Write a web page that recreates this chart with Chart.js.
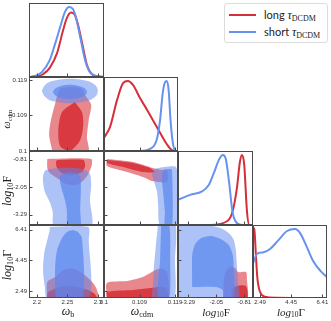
<!DOCTYPE html>
<html>
<head>
<meta charset="utf-8">
<script src="https://cdn.jsdelivr.net/npm/chart.js@4.4.1/dist/chart.umd.min.js"></script>
<style>
  html, body { margin: 0; padding: 0; background: #fff; }
  #wrap { position: relative; width: 331px; height: 321px; overflow: hidden; }
  #wrap canvas { position: absolute; left: 0; top: 0; }
  .lab { position: absolute; font-family: "Liberation Serif", "DejaVu Serif", serif; color: #222; white-space: nowrap; line-height: 1; }
  .lab i { font-style: italic; }
  .lab sub { font-size: 68%; vertical-align: -0.25em; line-height: 0; }
  .hor { transform: translate(-50%, -50%); }
  .rot { transform: translate(-50%, -50%) rotate(-90deg); }
  #legend { position: absolute; left: 224px; top: 3px; width: 102px; height: 38px; border: 1px solid #dcdcdc; border-radius: 3px; background: #fff; }
  #legend .row { position: absolute; left: 0; height: 14px; font-family: "Lato", "DejaVu Sans", sans-serif; font-size: 11px; color: #222; white-space: nowrap; }
  #legend .sw { position: absolute; left: 4px; top: 6px; width: 27px; height: 2px; }
  #legend .tx { position: absolute; left: 39px; top: 0; }
  #legend .tx i { font-family: "Liberation Serif", serif; font-style: italic; font-size: 12px; }
  #legend .tx sub { font-family: "Liberation Serif", serif; font-size: 8px; vertical-align: -0.2em; line-height: 0; }
</style>
</head>
<body>
<div id="wrap"></div>
<script>
// axis ranges and ticks
const wbRange = [2.187, 2.31];
const wcdmRange = [0.1, 0.1198];
const logFRange = [-3.75, -0.42];
const logGRange = [2.05, 6.7];
const pdfRange = [0, 1.057];

const wbTicks = [2.2, 2.25, 2.3];
const wbTickText = ['2.2', '2.25', '2.3'];
const wcdmTicks = [0.1, 0.1095, 0.119];
const wcdmTickText = ['0.1', '0.109', '0.119'];
const logFTicks = [-3.29, -2.05, -0.81];
const logFTickText = ['-3.29', '-2.05', '-0.81'];
const logGTicks = [2.49, 4.45, 6.41];
const logGTickText = ['2.49', '4.45', '6.41'];

// 1D marginals (long, short)
const wbLong1D = [[2.187,0],[2.205,0.02],[2.210,0.04],[2.221,0.13],[2.233,0.34],[2.243,0.67],[2.249,0.84],[2.256,0.92],[2.262,0.89],[2.267,0.76],[2.274,0.49],[2.282,0.17],[2.290,0.04],[2.298,0.01],[2.31,0]];
const wbShort1D = [[2.187,0],[2.198,0.02],[2.208,0.07],[2.221,0.24],[2.230,0.48],[2.238,0.71],[2.246,0.93],[2.253,1.0],[2.259,0.97],[2.264,0.85],[2.271,0.57],[2.279,0.24],[2.287,0.07],[2.297,0.015],[2.31,0]];
const wcdmLong1D = [[0.1,0.19],[0.1016,0.34],[0.1035,0.73],[0.1051,0.97],[0.1064,1.0],[0.1078,0.94],[0.1096,0.76],[0.1115,0.59],[0.1131,0.44],[0.1150,0.26],[0.1169,0.09],[0.1182,0.01],[0.1198,0]];
const wcdmShort1D = [[0.1,0],[0.1096,0],[0.1123,0.03],[0.1141,0.16],[0.1150,0.44],[0.1157,0.82],[0.1163,0.98],[0.1168,1.0],[0.1173,0.87],[0.1178,0.44],[0.1185,0.09],[0.1194,0],[0.1198,0]];
const logFLong1D = [[-3.75,0],[-2.309,0],[-1.556,0.057],[-1.331,0.19],[-1.137,0.52],[-1.002,0.9],[-0.912,1.0],[-0.809,0.86],[-0.687,0.19],[-0.583,0],[-0.42,0]];
const logFShort1D = [[-3.75,0.36],[-3.21,0.43],[-2.68,0.48],[-2.385,0.57],[-2.16,0.74],[-1.935,0.93],[-1.755,1.0],[-1.633,0.95],[-1.484,0.62],[-1.331,0.19],[-1.106,0.02],[-0.82,0],[-0.42,0]];
const logGLong1D = [[2.05,1.02],[2.13,1.0],[2.24,0.59],[2.32,0.30],[2.49,0.09],[2.8,0.02],[3.5,0.005],[6.7,0]];
const logGShort1D = [[2.05,0.5],[2.30,0.64],[2.68,0.66],[3.12,0.71],[3.62,0.83],[4.19,0.97],[4.69,1.0],[5.01,0.94],[5.45,0.73],[5.82,0.54],[6.26,0.4],[6.70,0.3]];

// 2D contours (68% and 95%)
const wbWcdmLong95 = [[2.226,0.0995],[2.220,0.1043],[2.223,0.1083],[2.230,0.1128],[2.235,0.1158],[2.241,0.1169],[2.271,0.1169],[2.280,0.1147],[2.289,0.1123],[2.285,0.1083],[2.282,0.1037],[2.284,0.0995],[2.226,0.0995]];
const wbWcdmLong68 = [[2.262,0.1131],[2.274,0.1104],[2.276,0.1070],[2.271,0.1029],[2.254,0.1000],[2.238,0.1013],[2.235,0.1056],[2.241,0.1104],[2.262,0.1131]];
const wbWcdmShort95 = [[2.208,0.1161],[2.212,0.1174],[2.221,0.1185],[2.238,0.1191],[2.254,0.1193],[2.271,0.1191],[2.287,0.1185],[2.297,0.1174],[2.300,0.1161],[2.297,0.1147],[2.287,0.1136],[2.271,0.1130],[2.254,0.1128],[2.238,0.1130],[2.221,0.1136],[2.212,0.1147],[2.208,0.1161]];
const wbWcdmShort68 = [[2.226,0.1158],[2.230,0.1167],[2.239,0.1174],[2.254,0.1177],[2.269,0.1174],[2.279,0.1167],[2.282,0.1158],[2.279,0.1149],[2.269,0.1142],[2.254,0.1139],[2.239,0.1142],[2.230,0.1149],[2.226,0.1158]];

const wbLogFLong95 = [[2.217,-0.777],[2.289,-0.777],[2.290,-1.047],[2.285,-1.408],[2.277,-1.723],[2.264,-1.948],[2.248,-1.903],[2.233,-1.633],[2.221,-1.408],[2.217,-1.182],[2.217,-0.777]];
const wbLogFLong68 = [[2.233,-0.822],[2.276,-0.822],[2.279,-1.092],[2.274,-1.363],[2.258,-1.498],[2.241,-1.408],[2.233,-1.182],[2.231,-0.912],[2.233,-0.822]];
const wbLogFShort95 = [[2.210,-1.543],[2.213,-1.318],[2.221,-1.227],[2.238,-1.182],[2.262,-1.182],[2.279,-1.273],[2.287,-1.453],[2.289,-1.948],[2.287,-2.624],[2.289,-3.8],[2.228,-3.8],[2.226,-3.164],[2.221,-2.714],[2.213,-2.264],[2.210,-1.813],[2.210,-1.543]];
const wbLogFShort68 = [[2.238,-1.543],[2.246,-1.408],[2.262,-1.408],[2.271,-1.543],[2.272,-2.173],[2.271,-3.074],[2.271,-3.8],[2.251,-3.8],[2.249,-3.074],[2.246,-2.624],[2.241,-2.173],[2.238,-1.813],[2.238,-1.543]];

const wbLogGLong95 = [[2.217,2.0],[2.217,3.069],[2.230,3.388],[2.241,3.770],[2.251,3.929],[2.262,3.897],[2.274,3.642],[2.284,3.324],[2.292,3.005],[2.298,2.623],[2.300,2.0],[2.217,2.0]];
const wbLogGLong68 = [[2.217,2.0],[2.217,2.368],[2.225,2.560],[2.238,2.751],[2.251,2.814],[2.267,2.751],[2.284,2.560],[2.295,2.305],[2.298,2.0],[2.217,2.0]];
const wbLogGShort95 = [[2.221,6.572],[2.284,6.572],[2.285,5.744],[2.285,2.0],[2.217,2.0],[2.213,2.751],[2.210,3.834],[2.212,4.916],[2.217,5.744],[2.221,6.381],[2.221,6.572]];
const wbLogGShort68 = [[2.241,5.872],[2.249,6.254],[2.259,6.381],[2.267,6.254],[2.274,5.872],[2.274,2.0],[2.233,2.0],[2.230,2.878],[2.230,4.152],[2.233,5.107],[2.238,5.617],[2.241,5.872]];

const wcdmLogFLong95 = [[0.1008,-0.777],[0.1078,-0.912],[0.1131,-1.182],[0.1155,-1.273],[0.1169,-1.273],[0.1169,-1.813],[0.1145,-1.813],[0.1128,-1.768],[0.1104,-1.588],[0.1062,-1.363],[0.1008,-1.092],[0.1008,-0.777]];
const wcdmLogFLong68 = [[0.1008,-0.822],[0.1078,-0.957],[0.1123,-1.182],[0.1136,-1.363],[0.1104,-1.363],[0.1051,-1.137],[0.1008,-0.957],[0.1008,-0.822]];
const wcdmLogFShort95 = [[0.1128,-1.453],[0.1134,-1.273],[0.1145,-1.182],[0.1194,-1.182],[0.1194,-3.8],[0.1150,-3.8],[0.1145,-2.849],[0.1142,-2.264],[0.1131,-1.633],[0.1128,-1.453]];
const wcdmLogFShort68 = [[0.1155,-1.453],[0.1161,-1.273],[0.1177,-1.227],[0.1182,-1.273],[0.1182,-3.8],[0.1163,-3.8],[0.1163,-3.164],[0.1158,-2.264],[0.1155,-1.723],[0.1155,-1.453]];

const wcdmLogGLong95 = [[0.1008,2.0],[0.1008,3.005],[0.1062,3.133],[0.1104,3.388],[0.1128,3.706],[0.1145,3.897],[0.1158,3.897],[0.1169,3.706],[0.1169,2.0],[0.1008,2.0]];
const wcdmLogGLong68 = [[0.1008,2.0],[0.1008,2.432],[0.1078,2.560],[0.1123,2.687],[0.1150,2.751],[0.1166,2.687],[0.1171,2.432],[0.1171,2.0],[0.1008,2.0]];
const wcdmLogGShort95 = [[0.1145,6.8],[0.1139,5.426],[0.1134,4.152],[0.1131,2.878],[0.1131,2.0],[0.1187,2.0],[0.1190,4.47],[0.1190,6.8],[0.1145,6.8]];
const wcdmLogGShort68 = [[0.1153,6.8],[0.1150,4.47],[0.1145,2.0],[0.1174,2.0],[0.1177,4.47],[0.1174,6.8],[0.1153,6.8]];

const logFLogGLong95 = [[-1.723,2.0],[-1.723,3.196],[-1.633,3.706],[-1.453,4.025],[-1.228,3.961],[-1.092,3.706],[-0.732,3.706],[-0.687,3.196],[-0.687,2.0],[-1.723,2.0]];
const logFLogGLong68 = [[-1.363,2.0],[-1.363,2.560],[-1.137,2.814],[-0.732,2.814],[-0.687,2.0],[-1.363,2.0]];
const logFLogGShort95 = [[-3.8,6.636],[-2.218,6.636],[-1.768,6.445],[-1.453,6.126],[-1.273,5.744],[-1.182,5.107],[-1.137,4.152],[-1.092,3.196],[-1.092,2.0],[-3.8,2.0],[-3.8,6.636]];
const logFLogGShort68 = [[-3.119,2.751],[-3.119,4.789],[-2.984,5.489],[-2.714,5.872],[-2.309,5.999],[-1.858,5.808],[-1.498,5.426],[-1.318,4.789],[-1.273,3.834],[-1.273,2.0],[-1.723,2.0],[-1.768,2.560],[-2.083,2.751],[-3.119,2.751]];

// layout
const panelLeft = [29, 104, 178, 253];
const panelRight = [104, 178, 253, 327];
const panelTop = [3, 77, 151, 225];
const panelBottom = [77, 151, 225, 298];
const W = 331, H = 321;

const longLine = '#d62e3a', shortLine = '#6792ef';
const longOuter = 'rgba(214,39,48,0.55)', longInner = 'rgba(214,39,48,0.8)';
const shortOuter = 'rgba(92,136,240,0.5)', shortInner = 'rgba(92,136,240,0.72)';

const params = [
    { range: wbRange, ticks: wbTicks, text: wbTickText },
    { range: wcdmRange, ticks: wcdmTicks, text: wcdmTickText },
    { range: logFRange, ticks: logFTicks, text: logFTickText },
    { range: logGRange, ticks: logGTicks, text: logGTickText }
];
const pdfParam = { range: pdfRange, ticks: [], text: [] };

const marginals = [
    [wbLong1D, wbShort1D],
    [wcdmLong1D, wcdmShort1D],
    [logFLong1D, logFShort1D],
    [logGLong1D, logGShort1D]
];
const contours = {
    '1,0': [wbWcdmLong95, wbWcdmLong68, wbWcdmShort95, wbWcdmShort68],
    '2,0': [wbLogFLong95, wbLogFLong68, wbLogFShort95, wbLogFShort68],
    '3,0': [wbLogGLong95, wbLogGLong68, wbLogGShort95, wbLogGShort68],
    '2,1': [wcdmLogFLong95, wcdmLogFLong68, wcdmLogFShort95, wcdmLogFShort68],
    '3,1': [wcdmLogGLong95, wcdmLogGLong68, wcdmLogGShort95, wcdmLogGShort68],
    '3,2': [logFLogGLong95, logFLogGLong68, logFLogGShort95, logFLogGShort68]
};

function pts(arr) {
    return arr.map(p => ({ x: p[0], y: p[1] }));
}

// box around each panel plus small inward ticks
const framePlugin = {
    id: 'frame',
    afterDraw(chart, args, opts) {
        const ctx = chart.ctx;
        const a = chart.chartArea;
        ctx.save();
        ctx.strokeStyle = '#4a4a4a';
        ctx.lineWidth = 1;
        const l = Math.round(a.left) + 0.5, t = Math.round(a.top) + 0.5;
        const r = Math.round(a.right) - 0.5, b = Math.round(a.bottom) - 0.5;
        ctx.strokeRect(l, t, r - l, b - t);
        ctx.beginPath();
        chart.scales.x.ticks.forEach(tk => {
            const px = Math.round(chart.scales.x.getPixelForValue(tk.value)) + 0.5;
            ctx.moveTo(px, b); ctx.lineTo(px, b - 3);
        });
        chart.scales.y.ticks.forEach(tk => {
            const py = Math.round(chart.scales.y.getPixelForValue(tk.value)) + 0.5;
            ctx.moveTo(l, py); ctx.lineTo(l + 3, py);
        });
        ctx.stroke();
        ctx.restore();
    }
};

function scaleOpts(axis, p, labeled, size) {
    return {
        type: 'linear',
        min: p.range[0],
        max: p.range[1],
        position: axis === 'x' ? 'bottom' : 'left',
        border: { display: false },
        grid: { display: false, drawTicks: false },
        ticks: {
            display: labeled,
            autoSkip: false,
            maxRotation: 0,
            padding: axis === 'x' ? 1 : 2,
            color: '#333',
            font: { family: 'Liberation Sans', size: 6 },
            callback: (v, i) => p.text[i]
        },
        afterBuildTicks: s => { s.ticks = p.ticks.map(v => ({ value: v })); },
        afterFit: s => {
            if (axis === 'x') s.height = size; else s.width = size;
            s.paddingLeft = 0; s.paddingRight = 0; s.paddingTop = 0; s.paddingBottom = 0;
        }
    };
}

function lineSet(data, color) {
    return {
        data: pts(data), showLine: true, fill: false,
        borderColor: color, borderWidth: 2, pointRadius: 0,
        cubicInterpolationMode: 'monotone'
    };
}

function shapeSet(data, color) {
    return {
        data: pts(data), showLine: true, fill: 'shape',
        backgroundColor: color, borderColor: 'rgba(0,0,0,0)', borderWidth: 0,
        pointRadius: 0, tension: 0.25
    };
}

const wrap = document.getElementById('wrap');

for (let r = 0; r < 4; r++) {
    for (let c = 0; c <= r; c++) {
        const canvas = document.createElement('canvas');
        canvas.width = W; canvas.height = H;
        wrap.appendChild(canvas);

        const xLabeled = r === 3;
        const yLabeled = c === 0 && r > 0;
        const xh = xLabeled ? 9 : 0;
        const yw = yLabeled ? 17 : 0;

        let datasets;
        let yParam;
        if (r === c) {
            yParam = pdfParam;
            datasets = [lineSet(marginals[c][1], shortLine), lineSet(marginals[c][0], longLine)];
        } else {
            yParam = params[r];
            const [l95, l68, s95, s68] = contours[r + ',' + c];
            // first dataset ends up on top
            datasets = [shapeSet(s68, shortInner), shapeSet(s95, shortOuter),
                        shapeSet(l68, longInner), shapeSet(l95, longOuter)];
        }

        new Chart(canvas, {
            type: 'scatter',
            data: { datasets: datasets },
            options: {
                responsive: false,
                animation: false,
                devicePixelRatio: 1,
                events: [],
                layout: {
                    padding: {
                        left: panelLeft[c] - yw,
                        right: W - panelRight[c],
                        top: panelTop[r],
                        bottom: H - panelBottom[r] - xh
                    }
                },
                plugins: { legend: { display: false }, tooltip: { enabled: false } },
                scales: {
                    x: scaleOpts('x', params[c], xLabeled, xh),
                    y: scaleOpts('y', yParam, yLabeled, yw)
                }
            },
            plugins: [framePlugin]
        });
    }
}

// axis titles
const titles = [
    { html: '<i>ω</i><sub>b</sub>', x: 68, y: 311, size: 12, rot: false },
    { html: '<i>ω</i><sub>cdm</sub>', x: 142, y: 311, size: 12, rot: false },
    { html: '<i>log</i><sub>10</sub>F', x: 216, y: 312, size: 11, rot: false },
    { html: '<i>log</i><sub>10</sub>Γ', x: 291, y: 312, size: 11, rot: false },
    { html: '<i>ω</i><sub>cdm</sub>', x: 7, y: 119, size: 10, rot: true },
    { html: '<i>log</i><sub>10</sub>F', x: 7, y: 191, size: 12, rot: true },
    { html: '<i>log</i><sub>10</sub>Γ', x: 7, y: 265, size: 12, rot: true }
];
titles.forEach(t => {
    const d = document.createElement('div');
    d.className = 'lab ' + (t.rot ? 'rot' : 'hor');
    d.style.left = t.x + 'px';
    d.style.top = t.y + 'px';
    d.style.fontSize = t.size + 'px';
    d.innerHTML = t.html;
    wrap.appendChild(d);
});

// legend
const legend = document.createElement('div');
legend.id = 'legend';
legend.innerHTML =
    '<div class="row" style="top:4px"><span class="sw" style="background:' + longLine + '"></span>' +
    '<span class="tx">long <i>τ</i><sub>DCDM</sub></span></div>' +
    '<div class="row" style="top:21px"><span class="sw" style="background:' + shortLine + '"></span>' +
    '<span class="tx">short <i>τ</i><sub>DCDM</sub></span></div>';
wrap.appendChild(legend);
</script>
</body>
</html>
